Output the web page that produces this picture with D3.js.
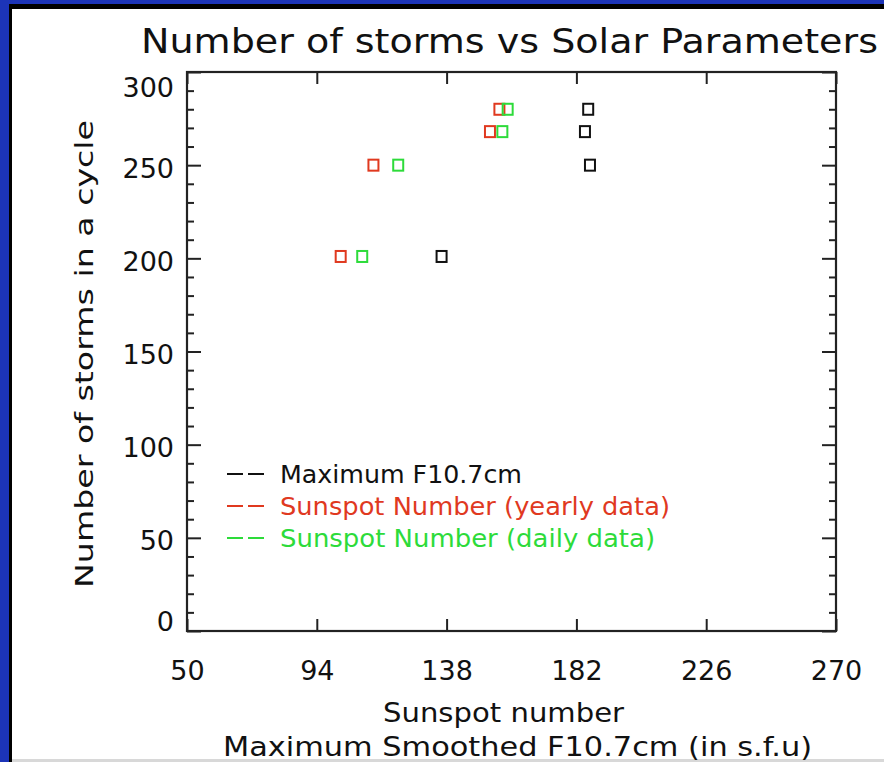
<!DOCTYPE html>
<html>
<head>
<meta charset="utf-8">
<script src="https://cdn.jsdelivr.net/npm/d3@7"></script>
<style>
  body { margin: 0; background: #1c34b8; overflow: hidden; }
  svg { display: block; }
  text { font-family: "DejaVu Sans", sans-serif; }
</style>
</head>
<body>
<script>
// number of storms in each cycle, and the solar values of that cycle
let storms = [201, 250, 268, 280];
let f107max = [136.3, 186.6, 184.9, 186.0];
let ssnYearly = [102.1, 113.2, 152.7, 155.9];
let ssnDaily = [109.4, 121.6, 156.9, 158.7];

let xTicks = [50, 94, 138, 182, 226, 270];
let yTicks = [0, 50, 100, 150, 200, 250, 300];
let yMinor = d3.range(0, 301, 10).filter(d => d % 50 != 0);

let seriesNames = ["Maximum F10.7cm", "Sunspot Number (yearly data)", "Sunspot Number (daily data)"];
let seriesColors = ["#111111", "#e0391f", "#2ddb3a"];

let width = 884, height = 762;
let plot = {left: 187, right: 836, top: 72, bottom: 631};

let svg = d3.select("body").append("svg")
  .attr("width", width)
  .attr("height", height);

// blue / black frame round the white page
svg.append("rect").attr("width", width).attr("height", height).attr("fill", "#1c34b8");
svg.append("rect").attr("x", 9).attr("y", 4).attr("width", width - 9).attr("height", height - 4).attr("fill", "#000");
svg.append("rect").attr("x", 12).attr("y", 9).attr("width", width - 12).attr("height", 750).attr("fill", "#fff");
svg.append("rect").attr("x", 12).attr("y", 759).attr("width", width - 12).attr("height", 3).attr("fill", "#d8d8d8");

let x = d3.scaleLinear().domain([50, 270]).range([plot.left, plot.right]);
let y = d3.scaleLinear().domain([0, 300]).range([plot.bottom, plot.top]);

// axes, ticks point inward like IDL
let axisG = svg.append("g");

// bottom
let bx = axisG.append("g")
  .attr("transform", "translate(0," + plot.bottom + ")")
  .call(d3.axisBottom(x).tickValues(xTicks).tickSizeInner(-12).tickSizeOuter(0).tickFormat(d3.format("d")));
bx.selectAll("text").attr("y", 49).attr("dy", 0).style("font-size", "27px").attr("fill", "#111");

// top
axisG.append("g")
  .attr("transform", "translate(0," + plot.top + ")")
  .call(d3.axisTop(x).tickValues(xTicks).tickSizeInner(-12).tickSizeOuter(0).tickFormat(""));

// left, minor then major
axisG.append("g")
  .attr("transform", "translate(" + plot.left + ",0)")
  .call(d3.axisLeft(y).tickValues(yMinor).tickSizeInner(-7).tickSizeOuter(0).tickFormat(""));
let ly = axisG.append("g")
  .attr("transform", "translate(" + plot.left + ",0)")
  .call(d3.axisLeft(y).tickValues(yTicks).tickSizeInner(-14).tickSizeOuter(0).tickPadding(13).tickFormat(d3.format("d")));
// end labels are pushed inside the axis range
ly.selectAll("text")
  .attr("dy", d => d == 300 ? "0.9em" : d == 0 ? "-0.02em" : "0.45em")
  .style("font-size", "27px").attr("fill", "#111");

// right
axisG.append("g")
  .attr("transform", "translate(" + plot.right + ",0)")
  .call(d3.axisRight(y).tickValues(yMinor).tickSizeInner(-7).tickSizeOuter(0).tickFormat(""));
axisG.append("g")
  .attr("transform", "translate(" + plot.right + ",0)")
  .call(d3.axisRight(y).tickValues(yTicks).tickSizeInner(-14).tickSizeOuter(0).tickFormat(""));

axisG.selectAll("path.domain").remove();
axisG.selectAll("line").attr("stroke", "#222").attr("stroke-width", 2);

svg.append("rect")
  .attr("x", plot.left).attr("y", plot.top)
  .attr("width", plot.right - plot.left).attr("height", plot.bottom - plot.top)
  .attr("fill", "none").attr("stroke", "#222").attr("stroke-width", 2.2);

// points: open squares
let series = [f107max, ssnYearly, ssnDaily].map((xs, i) =>
  xs.map((v, j) => ({x: v, y: storms[j], c: seriesColors[i]})));

svg.append("g").selectAll("g")
  .data(series)
  .enter().append("g")
  .selectAll("rect")
  .data(d => d)
  .enter().append("rect")
    .attr("x", d => x(d.x) - 5)
    .attr("y", d => y(d.y) - 5.5)
    .attr("width", 10)
    .attr("height", 11)
    .attr("fill", "none")
    .attr("stroke", d => d.c)
    .attr("stroke-width", 2);

// legend
let leg = svg.append("g");
seriesNames.forEach((name, i) => {
  let yy = 483 + i * 32;
  leg.append("line").attr("x1", 227).attr("x2", 243).attr("y1", yy - 9).attr("y2", yy - 9)
    .attr("stroke", seriesColors[i]).attr("stroke-width", 2);
  leg.append("line").attr("x1", 248).attr("x2", 264).attr("y1", yy - 9).attr("y2", yy - 9)
    .attr("stroke", seriesColors[i]).attr("stroke-width", 2);
  leg.append("text").attr("x", 280).attr("y", yy)
    .attr("textLength", [242, 390, 375][i]).attr("lengthAdjust", "spacingAndGlyphs")
    .style("font-size", "25px").attr("fill", seriesColors[i])
    .text(name);
});

// titles
svg.append("text")
  .attr("x", 141).attr("y", 53)
  .attr("textLength", 737).attr("lengthAdjust", "spacingAndGlyphs")
  .style("font-size", "34px").attr("fill", "#111")
  .text("Number of storms vs Solar Parameters");

svg.append("text")
  .attr("x", 383).attr("y", 722)
  .attr("textLength", 241).attr("lengthAdjust", "spacingAndGlyphs")
  .style("font-size", "27px").attr("fill", "#111")
  .text("Sunspot number");

svg.append("text")
  .attr("x", 223).attr("y", 756)
  .attr("textLength", 589).attr("lengthAdjust", "spacingAndGlyphs")
  .style("font-size", "27px").attr("fill", "#111")
  .text("Maximum Smoothed F10.7cm (in s.f.u)");

svg.append("text")
  .attr("transform", "translate(93,354) rotate(-90)")
  .attr("text-anchor", "middle")
  .attr("textLength", 468).attr("lengthAdjust", "spacingAndGlyphs")
  .style("font-size", "25px").attr("fill", "#111")
  .text("Number of storms in a cycle");
</script>
</body>
</html>
